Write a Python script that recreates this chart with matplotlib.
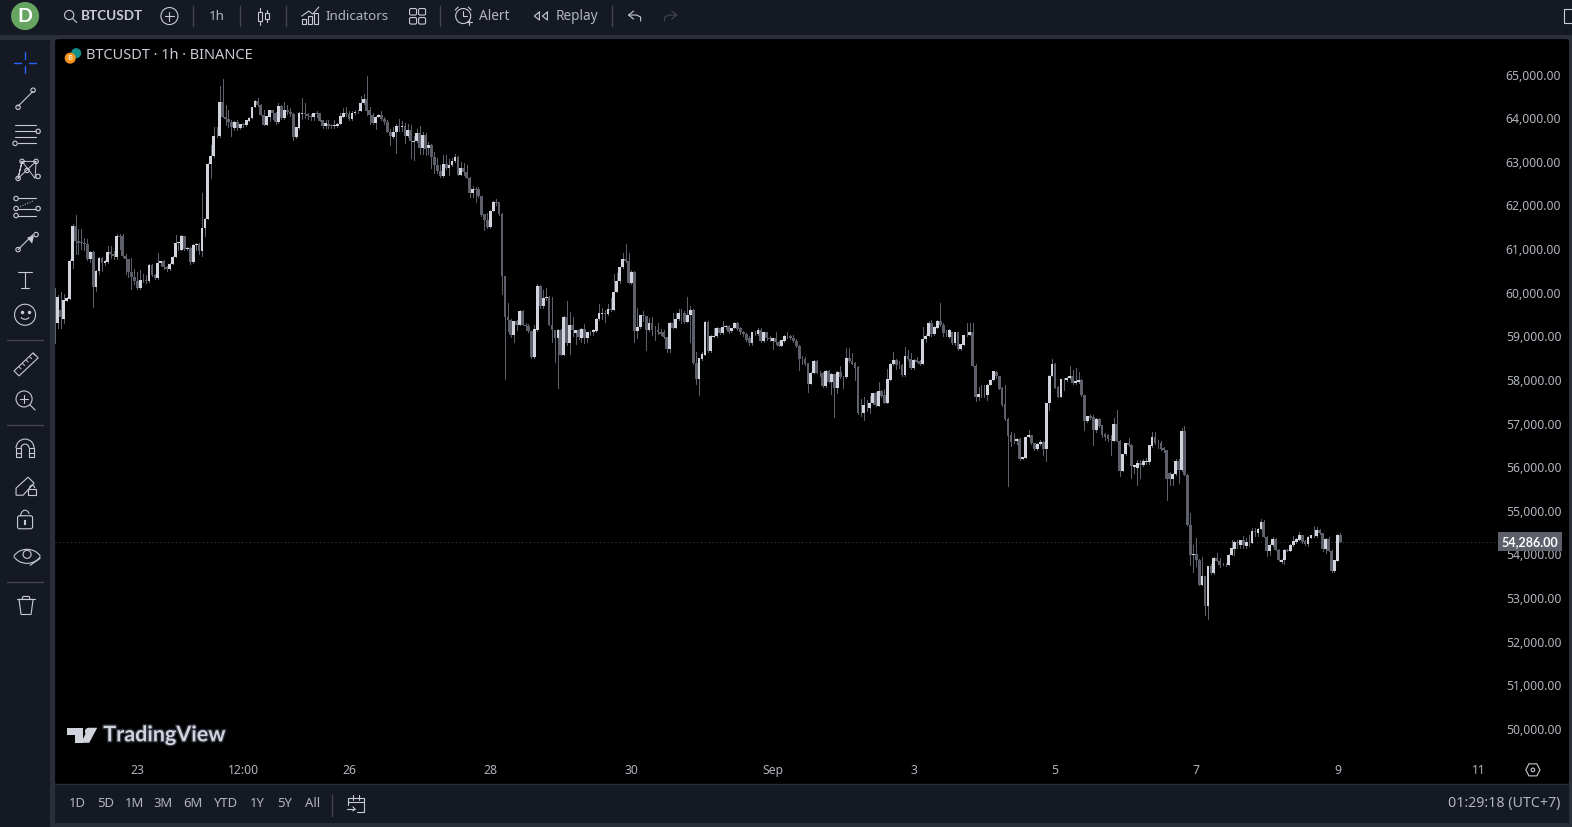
import numpy as np
import matplotlib
matplotlib.use('Agg')
import matplotlib.pyplot as plt
from matplotlib.patches import Rectangle, Circle, Polygon, FancyBboxPatch, Arc
from matplotlib.transforms import blended_transform_factory
import matplotlib.patheffects as pe

# ---- candle values (USDT), one entry per hour ----
o1 = [60000,59300,59600,59400,59820,59860,60720,61540,61180,61165,
61150,61120,60770,60940,60120,60490,60800,60680,60700,60940,
60890,60830,61310,61290,60840,60770,60470,60350,60260,60100,
60280,60285,60260,60640,60400,60340,60680,60720,60600,60540,
60660,60830,61130,60990,61290,61000,61020,60700,61100,61120,
60950,61490,61700,62960,63130,63590,63590,64370,64030,63990,
63920,63770,63920,63770,63860,63840,63940,64010,64260,64400,
64310,64080,63850,64030,64180,64120,63920,64280,64000,64180,
64150,64100,63570]
c1 = [59600,59900,59450,59830,59880,60735,61540,61180,61150,61130,
61120,60770,60940,60120,60500,60800,60680,60720,60940,60890,
60850,61310,61280,60840,60770,60470,60350,60260,60100,60290,
60290,60270,60640,60400,60340,60680,60720,60580,60540,60660,
60830,61140,61160,61290,61000,61020,60700,61100,61120,60950,
61490,61700,62960,63130,63590,63600,64370,64030,63990,63920,
63790,63920,63780,63860,63850,63950,64010,64260,64400,64310,
64080,63850,64050,64180,64120,63920,64280,64000,64180,64150,
64100,63570,63800]
h1 = [60100,59950,60020,59980,59900,60780,61580,61790,61460,61460,
61260,61240,60960,60950,60510,60810,60810,60740,61080,61060,
60960,61340,61340,61340,60890,60780,60800,60540,60470,60520,
60430,60400,60660,60660,60420,60920,60730,60740,60620,60680,
60840,61330,61170,61330,61310,61040,61040,61120,61150,61140,
62280,61720,62980,63380,63800,63800,64730,64910,64300,64180,
63960,63930,63950,63880,63900,63970,64030,64270,64420,64460,
64320,64190,64060,64200,64190,64140,64350,64300,64380,64310,
64240,64110,63810]
l1 = [58850,59200,59200,59300,59800,59850,60570,60890,60890,61000,
60970,60760,60700,59680,60050,60420,60500,60640,60690,60800,
60780,60780,61000,60830,60430,60350,60080,60200,60090,60090,
60250,60230,60250,60390,60310,60310,60620,60550,60500,60530,
60650,60820,60990,60980,60990,60980,60660,60690,60990,60890,
60850,61310,61690,62640,63120,63580,63570,64020,63840,63800,
63600,63740,63720,63760,63800,63820,63930,64000,64250,64290,
64070,63840,63840,63930,63990,63880,63900,63980,63990,64100,
64050,63510,63550]

o2 = [63770,64100,64120,64090,64060,64040,64110,64110,63950,63820,
63880,63840,63830,63820,63880,64030,64110,64090,63980,64110,
64160,64170,64340,64450,64180,64070,63890,64040,64080,63990,
63920,63690,63570,63690,63820,63790,63820,63600,63730,63450,
63470,63670,63320,63610,63310,63380,63110,62940,62800,62670,
62960,62860,62930,63020,63110,62710,62870,62770,62640,62280,
62380,62380,62210,61800,61670,61500,61880,62070,62070,61810,
60384]
c2 = [64120,64120,64090,64060,64030,64110,64090,63940,63820,63900,
63830,63830,63840,63880,64050,64120,64100,63980,64110,64150,
64170,64340,64450,64170,64070,63890,64040,64080,63990,63920,
63690,63590,63690,63820,63790,63820,63600,63730,63470,63490,
63670,63320,63610,63300,63380,63110,62940,62790,62670,62960,
62860,62940,63030,63110,62710,62870,62770,62640,62280,62380,
62360,62210,61790,61670,61500,61880,62070,62060,61810,60384,
59450]
h2 = [64150,64475,64340,64130,64100,64130,64170,64130,63970,63950,
63960,63870,63960,63900,64110,64240,64270,64170,64160,64200,
64190,64520,64560,64965,64250,64130,64060,64100,64170,64040,
63960,63760,63790,63860,63990,63940,63900,63870,63840,63600,
63760,63830,63690,63660,63460,63420,63220,63100,62940,63160,
63150,63060,63080,63170,63140,63000,62970,62920,62660,62450,
62420,62430,62220,61800,61830,61900,62100,62150,62080,61820,
60384]
l2 = [63750,63990,64000,63990,63970,63970,64020,63930,63770,63770,
63780,63770,63780,63790,63870,64020,64060,63970,63970,64100,
64130,64160,64330,64080,63880,63870,63760,64020,63960,63880,
63680,63390,63550,63200,63700,63700,63440,63580,63100,63040,
63450,63170,63190,63150,63180,62850,62750,62750,62650,62650,
62840,62690,62900,63000,62700,62690,62700,62630,62200,62200,
62090,62200,61770,61430,61490,61490,61880,62000,61780,59960,
58010]

o3 = [59450,59372,59035,59341,59265,59587,59265,59242,59127,58530,
59150,60161,59701,59878,59908,59265,59142,58958,59150,58575,
59449,58836,59265,59066,59150,58958,59165,58958,59104,59089,
59127,59395,59510,59533,59510,59625,59610,60023,60270,60580,
60782,60720,60230,60483,59112,59204,59495,59465,59150,59303,
59142,59150,59089,59089,58974,58706,59303,59196,59395,59533,
59533,59334,59479,59610,58399,58032,58484,58575,59334,58652,
58990,59004,59188,59066,59204,59234,59127,59188,59303]
c3 = [59372,59035,59341,59265,59587,59265,59242,59127,58530,59165,
60161,59701,59878,59908,59265,59142,58958,59150,58575,59449,
58836,59265,59150,59150,58974,59165,58958,59089,59110,59150,
59395,59533,59533,59510,59625,59610,60023,60276,60598,60782,
60720,60230,60483,59112,59204,59495,59465,59150,59303,59150,
59150,59089,59060,58974,58706,59303,59196,59395,59533,59528,
59334,59495,59610,58399,58032,58499,58591,59334,58652,59004,
59004,59188,59066,59204,59234,59104,59188,59303,59157]
h3 = [59755,59400,59350,59370,59600,59610,59300,59290,59130,59265,
60190,60170,60060,60115,59930,59900,59150,59170,59165,59460,
59820,59560,59440,59150,59170,59180,59290,59100,59120,59165,
59420,59730,59660,59610,59740,59870,60440,60450,60600,60900,
61120,60920,60520,60490,59650,59500,59580,59470,59430,59450,
59230,59300,59170,59150,58990,59320,59540,59540,59620,59620,
59580,59900,59700,59625,58640,58510,58650,59340,59340,59020,
59200,59220,59200,59340,59270,59250,59200,59320,59320]
l3 = [59127,58990,58880,59150,59265,59265,59150,59110,58500,58500,
59130,59640,59640,59840,59250,58880,58400,57825,58560,58560,
58790,58590,59000,58820,58940,58870,58840,58880,59020,59020,
59110,59380,59400,59330,59500,59570,59600,60010,60230,60560,
60700,60220,60190,58880,58960,59190,59350,58680,59120,59030,
58920,59050,59040,58960,58650,58650,59180,59180,59380,59300,
59310,59320,58860,58370,57910,57660,58450,58570,58640,58640,
58990,58980,59050,59050,59160,59080,59110,59180,59140]

o4 = [59180,59100,59050,58950,58845,59100,59050,59150,58897,59090,
58970,58897,58950,58870,58780,58900,59010,59000,58960,58897,
58780,58490,58480,58380,57915,58170,58440,58170,58170,57860,
58210,57960,58130,57825,58185,58070,58070,58500,58440,58390,
58300,57250,57240,57400,57350,57460,57700,57400,57750,57650,
57480,58000,58360,58450,58340,58350,58115,58550,58476,58276,
58460,58440,58376,58930,59010,59300,59050,59200,59355,59265,
59065,58990,59090,58836,59090,58705,58810,59035,59030,59105,
58320,57610]
c4 = [59090,59050,58920,58845,59100,59095,59150,58897,59090,58950,
58940,58965,58860,58780,58910,59010,59000,58950,58897,58770,
58470,58480,58361,57915,58170,58440,58170,58160,57860,58210,
57960,58130,57825,58185,58070,58076,58500,58440,58376,58284,
57250,57240,57415,57410,57465,57695,57420,57750,57630,57480,
58010,58360,58460,58340,58345,58115,58550,58476,58276,58460,
58420,58376,58935,59010,59300,59050,59220,59355,59256,59065,
59070,59150,58836,59090,58705,58820,59035,59040,59105,58320,
57610,57670]
h4 = [59220,59130,59080,59000,59110,59130,59190,59180,59100,59100,
59000,58970,59090,58900,58920,59020,59090,59040,59020,58930,
58790,58550,58530,58390,58180,58450,58460,58200,58190,58220,
58220,58150,58140,58200,58320,58100,58740,58740,58620,58400,
58310,57560,57600,57550,57630,57710,57720,57950,57780,57800,
58250,58380,58640,58470,58440,58360,58760,58690,58620,58480,
58530,58450,59210,59050,59340,59370,59240,59380,59760,59300,
59140,59170,59110,59110,59100,58830,59040,59300,59300,59300,
58370,57840]
l4 = [59060,59000,58900,58790,58800,59030,59020,58880,58870,58920,
58900,58720,58830,58770,58770,58880,58970,58930,58880,58750,
58230,58360,58340,57730,57900,58150,58150,58100,57840,57840,
57950,57680,57150,57700,58050,57820,58050,58420,58360,58000,
57220,57180,57090,57290,57240,57440,57410,57400,57600,57460,
57480,57990,58340,58250,58270,58100,58090,58460,58260,58260,
58400,58350,58370,58870,59000,59000,59030,59190,59240,59000,
59000,58960,58820,58800,58680,58690,58800,59010,59020,58320,
57520,57540]

o5 = [57650,57660,57650,57890,58000,58180,58090,57820,57440,57110,
56730,56600,56590,56645,56190,56215,56690,56730,56545,56410,
56540,56580,56420,57465,58090,58375,57840,57610,58015,58000,
58040,58090,57920,57960,57990,57650,57060,57170,57150,56850,
57110,56960,56750,56730,56640,56600,56980,56610,55910,56290,
56545,56500,56000,55980,56100,56050,56120,56120,56480,56690,
56545,56545,56440,56390,55870,55730,55850,56140,55930,56830]
c5 = [57660,57650,57890,58000,58195,58090,57800,57426,57097,56713,
56583,56590,56645,56193,56230,56690,56736,56545,56410,56540,
56580,56420,57465,58090,58375,57825,57610,58015,58020,58050,
58090,57920,57970,57990,57650,57060,57170,57130,56850,57110,
56940,56740,56700,56640,56620,56980,56600,55910,56290,56545,
56500,56015,56040,56100,56050,56140,56130,56500,56690,56545,
56550,56420,56390,55730,55730,55850,56140,55930,56830,55830]
h5 = [57880,57880,57910,58010,58210,58200,58100,57830,57880,57120,
56800,56780,56660,56660,56240,56700,56860,56740,56560,56560,
56620,56600,57480,58110,58490,58390,57860,58030,58040,58070,
58330,58220,58270,58190,58010,57660,57180,57210,57200,57120,
57130,56970,56780,56750,56740,57120,57310,56620,56310,56560,
56660,56520,56060,56170,56170,56180,56200,56510,56800,56800,
56620,56600,56470,56400,55880,55870,56190,56190,56900,56950]
l5 = [57610,57610,57550,57880,57990,58040,57790,57400,57080,55570,
56480,56550,56540,56170,56180,56200,56680,56530,56400,56390,
56500,56280,56150,57300,58080,57820,57600,57610,57780,57980,
58010,57910,57900,57930,57640,56850,57040,57110,56510,56810,
56930,56680,56620,56590,56280,56590,56590,55790,55900,56280,
56490,55760,55860,55590,55760,56030,56070,56080,56470,56530,
56450,56400,56340,55250,55590,55600,55820,55640,55910,55810]

o6 = [55830,54683,53995,54010,53878,53303,53495,52806,53725,53570,
53917,53855,53760,53765,53760,53990,54130,54276,54220,54320,
54190,54285,54260,54530,54490,54583,54736,54400,54070,54222,
54353,54110,53830,53860,54110,54085,54220,54287,54330,54437,
54300,54240,54375,54420,54410,54552,54490,54123,54345,54085,
53625,53845,54450]
c6 = [54683,53993,54010,53878,53303,53495,52806,53725,53570,53917,
53855,53750,53765,53760,53990,54145,54276,54270,54322,54207,
54285,54290,54530,54515,54583,54736,54400,54085,54222,54353,
54100,53870,53880,54110,54085,54220,54300,54345,54437,54285,
54240,54390,54437,54425,54552,54490,54123,54345,54085,53625,
53862,54450,54286]
h6 = [55840,54950,54220,54380,53890,53950,53510,53740,53770,53940,
54040,53920,53790,53800,54000,54330,54310,54330,54340,54410,
54370,54450,54610,54610,54600,54800,54790,54420,54240,54390,
54370,54120,53900,54120,54130,54240,54430,54370,54520,54450,
54320,54410,54450,54640,54620,54570,54500,54370,54390,54100,
53880,54460,54490]
l6 = [54680,53750,53590,53740,53300,53290,52600,52520,53560,53560,
53840,53700,53750,53740,53750,53980,53990,54150,54140,54150,
54150,54200,54250,54420,54420,54570,54390,53960,53990,54200,
54090,53840,53800,53770,54070,54070,54200,54270,54320,54270,
54220,54190,54370,54400,54400,54470,54080,54040,54070,53600,
53600,53840,54280]

price_ticks = [65000,64000,63000,62000,61000,60000,59000,58000,57000,56000,
               55000,54000,53000,52000,51000,50000]
time_tick_hours = [28,64,100,148,196,244,292,340,388,436,484]
time_tick_labels = ['23','12:00','26','28','30','Sep','3','5','7','9','11']
last_price = 54286
range_buttons = ['1D','5D','1M','3M','6M','YTD','1Y','5Y','All']
symbol_title = 'BTCUSDT · 1h · BINANCE'
clock_text = '01:29:18 (UTC+7)'

opens = np.array(o1+o2+o3+o4+o5+o6, float)
closes = np.array(c1+c2+c3+c4+c5+c6, float)
highs = np.array(h1+h2+h3+h4+h5+h6, float)
lows = np.array(l1+l2+l3+l4+l5+l6, float)
hours = np.arange(len(opens))

# layout is measured on a 1568x825 view of the 1572x827 reference
W, H = 1568, 825
FONT = ['Noto Sans', 'DejaVu Sans']
BOLD = ['Lato', 'DejaVu Sans']
plt.rcParams['font.family'] = FONT
BG = '#151924'; GAP = '#2a2e39'; TXT = '#b2b5be'; ICON = '#c8cbd3'; UP = '#d1d4dc'; DOWN = '#5d606b'

fig = plt.figure(figsize=(15.72, 8.27), dpi=100, facecolor=GAP)
ui = fig.add_axes([0, 0, 1, 1], zorder=0)
ui.set_xlim(0, W); ui.set_ylim(H, 0); ui.axis('off')

LW = 0.8
def rect(x, y, w, h, c, r=0):
    if r:
        ui.add_patch(FancyBboxPatch((x+r, y+r), w-2*r, h-2*r, boxstyle=f'round,pad={r},rounding_size={r}', fc=c, ec='none'))
    else:
        ui.add_patch(Rectangle((x, y), w, h, fc=c, ec='none'))
def line(xs, ys, c=ICON, lw=LW, **k):
    ui.plot(xs, ys, color=c, lw=lw, solid_capstyle='round', **k)
def ring(x, y, r, c=ICON, lw=LW, fc='none'):
    ui.add_patch(Circle((x, y), r, fc=fc, ec=c, lw=lw))
def box(x, y, w, h, c=ICON, lw=LW):
    ui.add_patch(Rectangle((x, y), w, h, fc='none', ec=c, lw=lw))
def label(x, y, s, size=9.6, c=TXT, ha='left', weight='normal', family=None):
    ui.text(x, y, s, fontsize=size, color=c, ha=ha, va='center', fontweight=weight, family=family or FONT)

# panels
rect(0, 0, W, 35, BG)
rect(0, 40, 50, 787, BG)
rect(55, 39, 1510, 744, '#000000', 3)
rect(55, 783, 1510, 38, BG)
ui.plot([55, 1565], [782.5, 782.5], color=GAP, lw=1)

# top bar
ui.add_patch(Circle((25, 16), 14, fc='#66a561', ec='none'))
label(25, 16, 'D', 14, '#ffffff', 'center', 'bold', BOLD)
ring(69, 15, 4.6); line([72.5, 76.5], [18.5, 22.5])
label(81, 16, 'BTCUSDT', 9.7, ICON, 'left', 'bold', BOLD)
ring(169, 16, 8.5); line([164.5, 173.5], [16, 16]); line([169, 169], [11.5, 20.5])
for sx in (193, 239, 285, 439, 610):
    ui.plot([sx, sx], [6, 26], color='#434651', lw=1)
label(216, 16, '1h', 9.6, TXT, 'center')
for cx, top, bot, a, b in ((259, 8, 25, 12, 21), (266, 10, 22, 13, 19)):
    line([cx, cx], [top, bot]); ui.add_patch(Rectangle((cx-2, a), 4, b-a, fc=BG, ec=ICON, lw=LW, zorder=3))
line([301, 308, 312, 318], [16, 11, 14, 7])
for bx, by in ((301, 19), (307, 16), (313, 13)):
    box(bx, by, 4.5, 24-by)
label(325, 16, 'Indicators', 9.6, TXT)
for qx, qy in ((409, 9), (418, 9), (409, 18), (418, 18)):
    ui.add_patch(FancyBboxPatch((qx, qy), 6, 5.5, boxstyle='round,pad=0.5,rounding_size=1.5', fc='none', ec=ICON, lw=LW))
ring(462, 16, 7.5); line([462, 462, 466], [11, 16, 16])
line([454, 457], [10, 7]); line([470, 467], [10, 7]); line([468, 468], [19, 25]); line([465, 471], [22, 22])
label(478, 16, 'Alert', 9.8, TXT)
line([538, 533, 538, 538], [12, 16, 20, 12]); line([546, 541, 546, 546], [12, 16, 20, 12])
label(554, 16, 'Replay', 9.8, TXT)
line([632, 627, 632], [11, 15, 19]); line([627, 635, 639, 639], [15, 15, 17, 21])
line([670, 675, 670], [11, 15, 19], c='#434651'); line([675, 667, 663, 663], [15, 15, 17, 21], c='#434651')
box(1560, 9, 12, 14)

# left toolbar
line([25, 25], [52, 59], c='#2962ff', lw=1); line([25, 25], [66, 73], c='#2962ff', lw=1)
line([14, 21], [63, 63], c='#2962ff', lw=1); line([29, 36], [63, 63], c='#2962ff', lw=1)
# trend line
line([18, 33], [106, 91]); ring(18, 107, 2.2, fc=BG); ring(33, 90, 2.2, fc=BG)
# fib
for yy, a, b in ((125, 15, 36), (131, 15, 36), (137, 15, 36), (143, 18, 36)):
    line([a, b], [yy, yy])
ring(38, 131, 2.2, fc=BG); ring(15, 143, 2.2, fc=BG)
# pattern
line([18, 22, 35, 36, 22, 18], [178, 161, 178, 161, 161, 178], lw=0.7); line([18, 36], [178, 161], lw=0.7)
for px, py in ((18, 178), (22, 161), (27, 170), (36, 161), (38, 176)):
    ring(px, py, 2.2, fc=BG)
# long position / forecast
for yy in (198, 208, 215):
    line([18, 36], [yy, yy])
line([20, 34], [206, 200], lw=0.7, ls=':')
for px, py in ((16, 198), (16, 208), (16, 215), (38, 208)):
    ring(px, py, 2.2, fc=BG)
# arrow
line([18, 33], [249, 234]); ring(18, 249, 2.2, fc=BG); ring(36, 234, 2.2, fc=BG)
ui.add_patch(Polygon([[34, 235], [27, 237], [32, 243]], fc=ICON, ec='none', zorder=3))
# text
line([18, 32], [271, 271]); line([25, 25], [271, 287]); line([21, 29], [287, 287])
# smiley
ring(25, 314, 10.5); ui.plot([21.5, 28.5], [311, 311], 'o', ms=1.5, color=ICON)
ui.add_patch(Arc((25, 315), 9, 7, theta1=20, theta2=160, ec=ICON, lw=LW))
for yy in (339, 424, 581):
    ui.plot([7, 43], [yy, yy], color='#434651', lw=1)
# ruler
ui.add_patch(Polygon([[14, 370], [33, 352], [38, 357], [19, 375]], fc='none', ec=ICON, lw=LW))
for k in range(5):
    line([19+k*3.5, 21+k*3.5], [366-k*3.4, 368-k*3.4], lw=0.7)
# zoom
ring(24, 398, 8); line([30, 35], [404, 409]); line([20, 28], [398, 398]); line([24, 24], [394, 402])
# magnet
ui.add_patch(Arc((25, 447), 18, 18, theta1=180, theta2=360, ec=ICON, lw=LW))
ui.add_patch(Arc((25, 447), 8, 8, theta1=180, theta2=360, ec=ICON, lw=LW))
box(16, 447, 5, 9); box(29, 447, 5, 9); line([16, 21], [452, 452]); line([29, 34], [452, 452])
# pencil + lock
ui.add_patch(Polygon([[16, 487], [16, 494], [23, 494], [34, 482], [28, 476]], fc='none', ec=ICON, lw=LW))
ui.add_patch(Rectangle((28, 488), 8, 6, fc=BG, ec=ICON, lw=LW, zorder=3)); ui.add_patch(Arc((32, 487), 5, 6, theta1=180, theta2=360, ec=ICON, lw=LW))
# lock
ui.add_patch(FancyBboxPatch((18, 515), 14, 12, boxstyle='round,pad=0.5,rounding_size=2', fc='none', ec=ICON, lw=LW))
ui.add_patch(Arc((25, 515), 9, 12, theta1=180, theta2=330, ec=ICON, lw=LW))
ui.plot([25, 25], [520, 523], color=ICON, lw=1.5)
# eye
ui.add_patch(Arc((27, 561), 30, 26, theta1=205, theta2=335, ec=ICON, lw=LW))
ui.add_patch(Arc((27, 549), 30, 26, theta1=25, theta2=155, ec=ICON, lw=LW))
ring(27, 553, 4); line([30, 40], [564, 557])
# bin
ui.add_patch(Polygon([[19, 598], [21, 613], [31, 613], [33, 598]], fc='none', ec=ICON, lw=LW))
line([17, 35], [598, 598]); line([22, 23, 29, 30], [598, 595, 595, 598])

# title and coin icons
ui.add_patch(Circle((76, 53), 5, fc='#12918a', ec='none'))
ui.add_patch(Circle((70, 58), 5.5, fc='#f7931a', ec='none'))
label(70, 58, 'B', 5.5, '#ffffff', 'center')
label(86, 55.5, symbol_title, 10.5, ICON)

# watermark
WM = '#d1d4dc'
ui.add_patch(Polygon([[67, 726], [83, 726], [83, 741], [75, 741], [75, 733], [67, 733]], fc=WM, ec='none'))
ui.add_patch(Circle((88, 729.5), 3.3, fc=WM, ec='none'))
ui.add_patch(Polygon([[89, 741], [81, 741], [88, 726], [97, 726]], fc=WM, ec='none'))
ui.text(103, 733, 'TradingView', fontsize=15.5, color=WM, fontweight='bold', ha='left', va='center',
        family=BOLD, path_effects=[pe.withStroke(linewidth=2, foreground='#2a2e39')])

# bottom bar
for bx, s in zip([77, 105, 134, 163, 192, 225, 257, 284, 312], range_buttons):
    label(bx, 802, s, 9.4, TXT, 'center')
ui.plot([331, 331], [793, 814], color='#434651', lw=1)
line([347, 347], [803, 796]); line([347, 363, 363, 356], [796, 796, 810, 810]); line([347, 363], [800, 800])
line([352, 352], [793, 798]); line([358, 358], [793, 798]); line([346, 354], [807, 807]); line([352, 354, 352], [805, 807, 809])
label(1556, 802, clock_text, 10.2, TXT, 'right')
# settings icon
ui.add_patch(Polygon([[1522, 768], [1525, 762], [1533, 762], [1536, 768], [1533, 774], [1525, 774]], fc='none', ec=ICON, lw=LW))
ring(1529, 768, 1.8)

# ---- price chart axes ----
PX_PER_HOUR = 2.934
PX_PER_USD = 0.0435
ax_l, ax_r, ax_t, ax_b = 55, 1495, 40, 757
ax = fig.add_axes([ax_l/W, 1-ax_b/H, (ax_r-ax_l)/W, (ax_b-ax_t)/H], zorder=1, facecolor='none')
x_left = 436 - (1334-ax_l)/PX_PER_HOUR
ax.set_xlim(x_left, x_left + (ax_r-ax_l)/PX_PER_HOUR)
y_top = 65000 + (74.5-ax_t)/PX_PER_USD
ax.set_ylim(y_top - (ax_b-ax_t)/PX_PER_USD, y_top)
for s in ax.spines.values():
    s.set_visible(False)

ax.vlines(hours, lows, highs, color=DOWN, lw=0.7, zorder=2, antialiased=False)
up = closes >= opens
bar_w = 0.95
ax.bar(hours[~up], (closes-opens)[~up], bottom=opens[~up], width=bar_w, color=DOWN, lw=0, zorder=3)
ax.bar(hours[up], (closes-opens)[up], bottom=opens[up], width=bar_w, color=UP, lw=0, zorder=4)
ax.axhline(last_price, color='#434651', lw=0.7, ls=(0, (1, 3)), zorder=1)

ax.yaxis.tick_right()
ax.set_yticks(price_ticks, [f'{p:,.2f}' for p in price_ticks])
ax.tick_params(axis='y', length=0, pad=5, labelsize=8.8, labelcolor=TXT)
ax.set_xticks(time_tick_hours, time_tick_labels)
ax.tick_params(axis='x', length=0, pad=4, labelsize=8.8, labelcolor=TXT)
tr = blended_transform_factory(ax.transAxes, ax.transData)
ax.text(1 + 31/(ax_r-ax_l), last_price, f'{last_price:,.2f}', transform=tr, ha='center', va='center',
        fontsize=9.0, color='#ffffff', fontweight='bold', family=BOLD, zorder=6, clip_on=False,
        bbox=dict(boxstyle='square,pad=0.28', fc=DOWN, ec='none'))

fig.savefig('out.png', dpi=100, facecolor=GAP)
